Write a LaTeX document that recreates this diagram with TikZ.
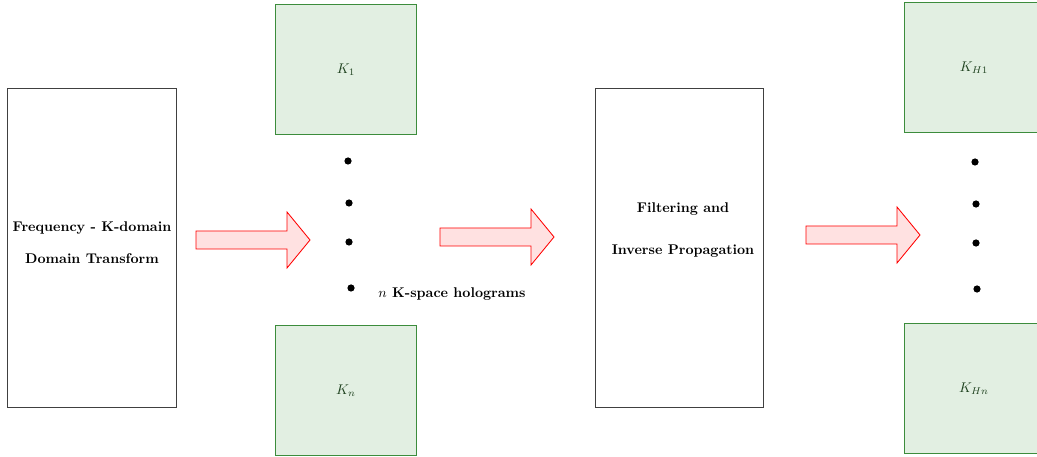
\documentclass[tikz,border=0pt]{standalone}
\usetikzlibrary{positioning}
\definecolor{kfill}{HTML}{E2EFE2}
\definecolor{kdraw}{HTML}{3C8C3C}
\definecolor{ktext}{HTML}{1F421F}
\definecolor{afill}{HTML}{FFE1E1}
\begin{document}
\begin{tikzpicture}[x=0.025cm,y=-0.025cm,
  stagebox/.style={draw=black!75,line width=0.7pt,fill=white,rectangle,inner sep=0pt,
    minimum width=4.2cm,minimum height=7.95cm},
  kbox/.style={draw=kdraw,line width=0.7pt,fill=kfill,rectangle,inner sep=0pt,
    minimum width=3.5cm,minimum height=3.225cm,text=ktext},
  stagelabel/.style={align=center,font=\bfseries},
  dotnode/.style={circle,fill=black,inner sep=0pt,minimum size=0.18cm},
  arrowstyle/.style={draw=red,fill=afill,line width=0.6pt,line join=miter},
  blockarr/.pic={\draw[arrowstyle] (0,-9) -- (91,-9) -- (91,-28) -- (114,0)
      -- (91,28) -- (91,9) -- (0,9) -- cycle;}]
\clip (0,0) rectangle (1037,457);
\fill[white] (0,0) rectangle (1037,457);

% first stage: frequency to K-domain
\node[stagebox] (freq) at (92,248) {};
\node[stagelabel] (freqlabel) at (92,242.5) {Frequency - K-domain\\[11pt]Domain Transform};

\pic at (196,240) {blockarr};

% K-space holograms
\node[kbox] (k1) at (346,69.5) {$K_1$};
\node[kbox] (kn) at (346,390.5) {$K_n$};
\node[dotnode] (d1) at (348,161) {};
\node[dotnode] (d2) at (349,203) {};
\node[dotnode] (d3) at (349,242) {};
\node[dotnode] (d4) at (351,288) {};
\node[font=\bfseries] (holo) at (452,294) {$n$ K-space holograms};

\pic at (440,237) {blockarr};

% second stage: filtering and inverse propagation
\node[stagebox,minimum width=4.175cm] (filt) at (679.5,248) {};
\node[stagelabel] (filtlabel) at (683,230) {Filtering and\\[18pt]Inverse Propagation};

\pic at (806,235) {blockarr};

% filtered holograms
\node[kbox] (kh1) at (974,67.5) {$K_{H1}$};
\node[kbox] (khn) at (974,388.5) {$K_{Hn}$};
\node[dotnode] (e1) at (975,162) {};
\node[dotnode] (e2) at (976,204) {};
\node[dotnode] (e3) at (976,243) {};
\node[dotnode] (e4) at (977,289) {};
\end{tikzpicture}
\end{document}
